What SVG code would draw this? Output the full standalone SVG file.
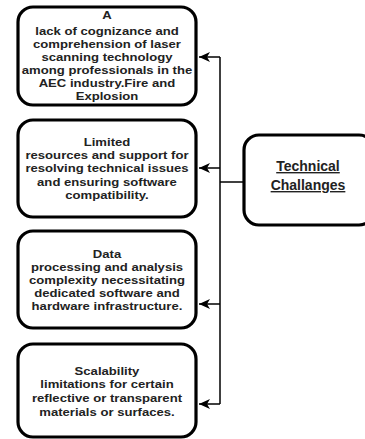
<svg xmlns="http://www.w3.org/2000/svg" width="365" height="439" viewBox="0 0 365 439">
<defs>
<style>
.box{fill:#fff;stroke:#000;stroke-width:3.2}
.t{font-family:"Liberation Sans",Arial,sans-serif;font-weight:bold;font-size:11.5px;fill:#222;text-anchor:middle}
.h{font-family:"Liberation Sans",Arial,sans-serif;font-weight:bold;font-size:14px;fill:#222;text-anchor:middle;text-decoration:underline}
.c{fill:none;stroke:#000;stroke-width:1.5}
</style>
<marker id="ah" markerWidth="12" markerHeight="10" refX="11" refY="5" orient="auto" markerUnits="userSpaceOnUse">
<path d="M0,0 L11,5 L0,10 L3,5 Z" fill="#000"/>
</marker>
</defs>
<rect width="365" height="439" fill="#fff"/>
<g id="connectors">
<path class="c" d="M220,57 V404"/>
<path class="c" d="M244,182 H220"/>
<path class="c" d="M220,57 H199" marker-end="url(#ah)"/>
<path class="c" d="M220,168 H199" marker-end="url(#ah)"/>
<path class="c" d="M220,304 H199" marker-end="url(#ah)"/>
<path class="c" d="M220,404 H199" marker-end="url(#ah)"/>
</g>
<g id="node1">
<rect class="box" x="18" y="7" width="178" height="98" rx="15"/>
<g transform="translate(107,0) scale(1.14,1)">
<text class="t" x="0" y="19">A</text>
<text class="t" x="0" y="35">lack of cognizance and</text>
<text class="t" x="0" y="48">comprehension of laser</text>
<text class="t" x="0" y="61.5">scanning technology</text>
<text class="t" x="0" y="74.5">among professionals in the</text>
<text class="t" x="0" y="87.5">AEC industry.Fire and</text>
<text class="t" x="0" y="100.5">Explosion</text>
</g>
</g>
<g id="node2">
<rect class="box" x="18" y="120" width="178" height="97" rx="15"/>
<g transform="translate(107,0) scale(1.14,1)">
<text class="t" x="0" y="146">Limited</text>
<text class="t" x="0" y="159.5">resources and support for</text>
<text class="t" x="0" y="172.5">resolving technical issues</text>
<text class="t" x="0" y="186">and ensuring software</text>
<text class="t" x="0" y="199">compatibility.</text>
</g>
</g>
<g id="node3">
<rect class="box" x="18" y="231" width="178" height="97" rx="15"/>
<g transform="translate(107,0) scale(1.14,1)">
<text class="t" x="0" y="258">Data</text>
<text class="t" x="0" y="271">processing and analysis</text>
<text class="t" x="0" y="284.5">complexity necessitating</text>
<text class="t" x="0" y="297.5">dedicated software and</text>
<text class="t" x="0" y="310.5">hardware infrastructure.</text>
</g>
</g>
<g id="node4">
<rect class="box" x="18" y="344" width="178" height="93" rx="15"/>
<g transform="translate(107,0) scale(1.14,1)">
<text class="t" x="0" y="375">Scalability</text>
<text class="t" x="0" y="388.5">limitations for certain</text>
<text class="t" x="0" y="402">reflective or transparent</text>
<text class="t" x="0" y="416">materials or surfaces.</text>
</g>
</g>
<g id="node5">
<rect class="box" x="244" y="135" width="130" height="90" rx="15"/>
<text class="h" x="308" y="171">Technical </text>
<text class="h" x="308" y="190">Challanges</text>
</g>
</svg>
